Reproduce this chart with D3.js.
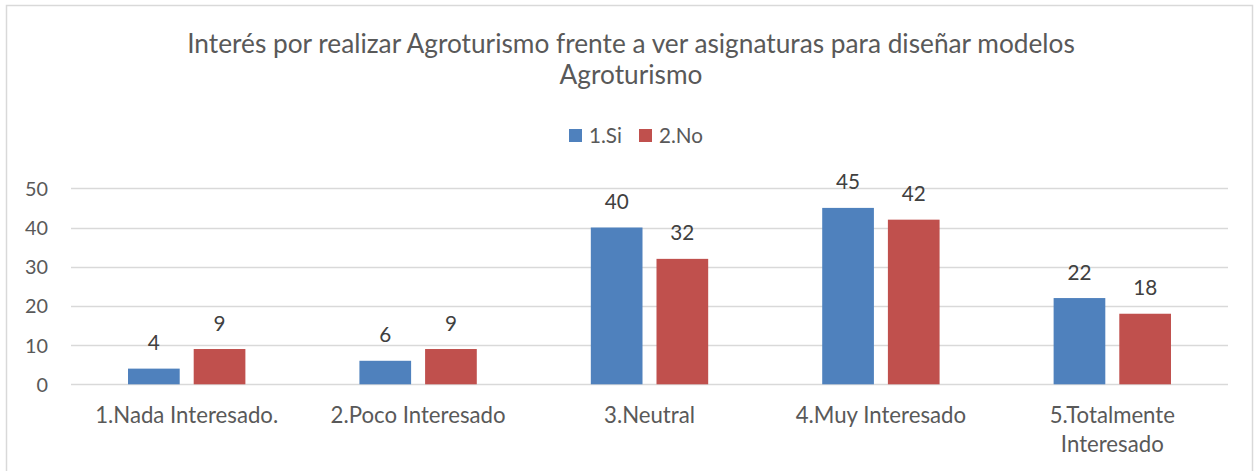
<!DOCTYPE html>
<html>
<head>
<meta charset="utf-8">
<script src="https://cdn.jsdelivr.net/npm/d3@7"></script>
<style>
  body { margin: 0; background: #fff; }
  text { font-family: Lato, "Open Sans", sans-serif; fill: #595959; }
</style>
</head>
<body>
<script>
// chart data
var categories = ["1.Nada Interesado.", "2.Poco Interesado", "3.Neutral", "4.Muy Interesado", "5.Totalmente Interesado"];
var seriesNames = ["1.Si", "2.No"];
var siValues = [4, 6, 40, 45, 22];
var noValues = [9, 9, 32, 42, 18];
var yTicks = [0, 10, 20, 30, 40, 50];
var colors = ["#4F81BD", "#C0504D"];

var width = 1257, height = 471;

var svg = d3.select("body").append("svg")
    .attr("width", width)
    .attr("height", height);

// scale font so that a sample text gets the width seen in the picture
function fitSize(sample, target){
    var t = svg.append("text").style("font-size", "20px").text(sample);
    var w = t.node().getComputedTextLength();
    t.remove();
    return (20 * target / w).toFixed(2) + "px";
}
var titleSize = fitSize("Interés por realizar Agroturismo frente a ver asignaturas para diseñar modelos", 888);
var catSize = fitSize("1.Nada Interesado.", 183);
var tickSize = fitSize("50", 23);
var valSize = fitSize("40", 24);
var legSize = fitSize("2.No", 44);

// outer chart border
svg.append("rect")
    .attr("x", 6.5).attr("y", 5.5)
    .attr("width", 1246).attr("height", 470)
    .attr("fill", "none")
    .attr("stroke", "#d9d9d9")
    .attr("stroke-width", 1.5);

// plot area
var plotLeft = 71, plotRight = 1228, plotTop = 188.3, plotBottom = 384.3;

var x = d3.scaleBand()
    .domain(categories)
    .range([plotLeft, plotRight]);

var x1 = d3.scaleBand()
    .domain(seriesNames)
    .range([0, x.bandwidth()])
    .paddingInner(0.213)
    .paddingOuter(0.868);

var y = d3.scaleLinear()
    .domain([0, 50])
    .range([plotBottom, plotTop]);

// gridlines
svg.selectAll(".grid")
    .data(yTicks)
    .enter().append("line")
    .attr("x1", plotLeft).attr("x2", plotRight)
    .attr("y1", function(d){ return Math.round(y(d)) + 0.5; })
    .attr("y2", function(d){ return Math.round(y(d)) + 0.5; })
    .attr("stroke", "#d9d9d9")
    .attr("stroke-width", 1.3);

// y axis labels
svg.selectAll(".ylab")
    .data(yTicks)
    .enter().append("text")
    .attr("x", 48)
    .attr("y", function(d){ return y(d) + 7.5; })
    .attr("text-anchor", "end")
    .style("font-size", tickSize)
    .text(function(d){ return d; });

// bars
var rows = categories.map(function(c, i){
    return {cat: c, vals: [siValues[i], noValues[i]]};
});

var groups = svg.selectAll(".grp")
    .data(rows)
    .enter().append("g")
    .attr("transform", function(d){ return "translate(" + x(d.cat) + ",0)"; });

groups.selectAll("rect")
    .data(function(d){ return d.vals.map(function(v, j){ return {s: seriesNames[j], v: v, j: j}; }); })
    .enter().append("rect")
    .attr("x", function(d){ return x1(d.s); })
    .attr("width", x1.bandwidth())
    .attr("y", function(d){ return y(d.v); })
    .attr("height", function(d){ return plotBottom - y(d.v); })
    .attr("fill", function(d){ return colors[d.j]; });

groups.selectAll(".val")
    .data(function(d){ return d.vals.map(function(v, j){ return {s: seriesNames[j], v: v}; }); })
    .enter().append("text")
    .attr("x", function(d){ return x1(d.s) + x1.bandwidth() / 2; })
    .attr("y", function(d){ return y(d.v) - 18.5; })
    .attr("text-anchor", "middle")
    .style("font-size", valSize)
    .style("fill", "#404040")
    .text(function(d){ return d.v; });

// category labels (wrap the long one)
svg.selectAll(".xlab")
    .data(categories)
    .enter().append("text")
    .attr("x", function(d){ return x(d) + x.bandwidth() / 2; })
    .attr("y", 423)
    .attr("text-anchor", "middle")
    .style("font-size", catSize)
    .each(function(d){
        var parts = d === "5.Totalmente Interesado" ? ["5.Totalmente", "Interesado"] : [d];
        var t = d3.select(this);
        parts.forEach(function(p, k){
            t.append("tspan")
                .attr("x", x(d) + x.bandwidth() / 2)
                .attr("dy", k === 0 ? 0 : 28.5)
                .text(p);
        });
    });

// title
var title = svg.append("text")
    .attr("text-anchor", "middle")
    .style("font-size", titleSize);
title.append("tspan").attr("x", 631).attr("y", 53)
    .text("Interés por realizar Agroturismo frente a ver asignaturas para diseñar modelos");
title.append("tspan").attr("x", 631).attr("y", 84)
    .text("Agroturismo");

// legend
var legend = svg.selectAll(".leg")
    .data(seriesNames)
    .enter().append("g")
    .attr("transform", function(d, i){ return "translate(" + (569 + i * 70) + ",129)"; });
legend.append("rect")
    .attr("width", 13).attr("height", 13)
    .attr("fill", function(d, i){ return colors[i]; });
legend.append("text")
    .attr("x", 20).attr("y", 14)
    .style("font-size", legSize)
    .text(function(d){ return d; });
</script>
</body>
</html>
